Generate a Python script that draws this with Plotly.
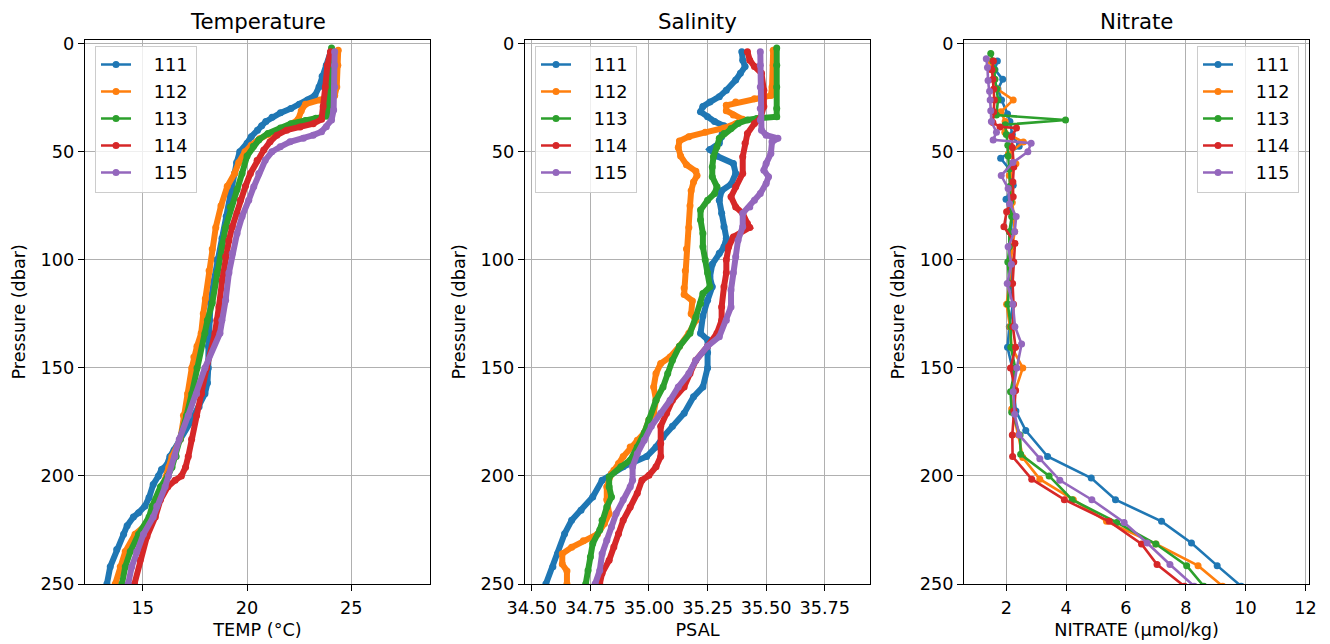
import plotly.graph_objects as go

# ---------------- data ----------------
PROFILES = ["111", "112", "113", "114", "115"]
COLORS = ["#1f77b4", "#ff7f0e", "#2ca02c", "#d62728", "#9467bd"]

# Temperature (deg C) vs pressure (dbar)
temp_p_111 = [4, 10, 15, 20, 24, 26, 28, 30, 32, 34, 36, 38, 40, 43, 46, 50, 55, 60, 70, 80, 90, 100, 110, 120, 128, 135, 140, 150, 157, 162, 168, 175, 183, 188, 191, 195, 197, 200, 204, 210, 214, 217, 219, 223, 227, 234, 242, 250]
temp_111 = [24.0, 23.8, 23.6, 23.45, 23.25, 22.9, 22.5, 22.1, 21.6, 21.2, 20.9, 20.7, 20.5, 20.2, 20.0, 19.65, 19.5, 19.4, 19.2, 19.0, 18.8, 18.55, 18.4, 18.25, 18.2, 18.2, 18.15, 18.14, 18.1, 17.98, 17.7, 17.3, 16.8, 16.5, 16.3, 16.15, 15.9, 15.75, 15.5, 15.3, 15.1, 14.8, 14.55, 14.25, 14.08, 13.75, 13.44, 13.28]

temp_p_112 = [3, 10, 20, 24, 26, 28, 31, 35, 38, 40, 42, 44, 47, 50, 55, 60, 66, 75, 85, 95, 105, 118, 125, 134, 140, 145, 150, 162, 172, 183, 191, 196, 200, 205, 214, 219, 223, 227, 235, 242, 250]
temp_112 = [24.37, 24.35, 24.3, 24.2, 23.5, 22.8, 22.6, 22.45, 22.0, 21.6, 21.0, 20.6, 20.2, 19.9, 19.6, 19.4, 19.05, 18.75, 18.5, 18.33, 18.18, 18.0, 17.9, 17.8, 17.6, 17.45, 17.35, 17.15, 16.95, 16.8, 16.4, 16.25, 16.15, 15.95, 15.5, 15.35, 15.1, 14.63, 14.16, 13.92, 13.68]

temp_p_113 = [2, 10, 20, 30, 33.5, 34.5, 35.5, 37, 39, 41.5, 44.5, 47.5, 52, 60, 67.5, 75.5, 85, 94, 106, 120, 128, 134, 150, 162, 172, 183, 191, 196, 200, 205, 214, 219, 227, 235, 242, 250]
temp_113 = [24.05, 24.0, 23.95, 23.9, 23.85, 23.3, 22.8, 22.1, 21.6, 21.0, 20.56, 20.3, 20.0, 19.76, 19.52, 19.2, 18.97, 18.8, 18.57, 18.33, 18.1, 17.98, 17.6, 17.35, 17.1, 16.8, 16.6, 16.4, 16.2, 15.85, 15.45, 15.3, 14.8, 14.4, 14.16, 14.0]

temp_p_114 = [3.7, 10, 20, 29, 35, 37, 38.5, 40, 42.3, 45.4, 49.2, 54, 60, 66, 72.4, 78.5, 84.7, 91, 98.6, 109.4, 121.8, 128, 134, 150, 162, 172, 183, 191, 196, 200, 202, 205, 211, 219, 228, 239, 250]
temp_114 = [24.0, 23.85, 23.75, 23.65, 23.57, 23.17, 22.54, 21.9, 21.43, 21.1, 20.8, 20.48, 20.16, 19.92, 19.68, 19.52, 19.29, 19.13, 18.97, 18.81, 18.65, 18.55, 18.46, 18.06, 17.82, 17.58, 17.34, 17.18, 17.05, 16.85, 16.55, 16.2, 15.85, 15.6, 15.2, 14.87, 14.6]

temp_p_115 = [3.7, 10, 20, 30.7, 35.3, 38.4, 40.7, 42.3, 43.8, 45.4, 47.7, 50, 53.9, 60, 66.2, 72.4, 80, 87.8, 97, 106, 118.7, 128, 134, 150, 162, 172, 183, 191, 200, 205, 214, 219, 227, 235, 242, 250]
temp_115 = [24.2, 24.2, 24.2, 24.15, 24.05, 23.8, 23.57, 23.17, 22.7, 22.06, 21.59, 21.19, 20.87, 20.56, 20.32, 20.08, 19.76, 19.52, 19.29, 19.13, 18.97, 18.79, 18.7, 17.98, 17.58, 17.18, 16.75, 16.54, 16.23, 16.07, 15.67, 15.5, 15.03, 14.71, 14.47, 14.3]

# Salinity (PSAL) vs pressure (dbar)
psal_p_111 = [3.7, 7.6, 10.6, 13.7, 16.8, 21.5, 24.5, 27, 29, 31.5, 33.8, 36, 38, 43, 46, 49, 52, 55.4, 60, 65, 68, 72.4, 78.5, 84.7, 90, 94, 97, 102, 108, 112.5, 118.7, 126, 134, 137, 143, 150, 158.8, 163.4, 171, 177, 182, 186.6, 191, 195.8, 199, 202, 209.7, 215.9, 220.5, 226.7, 236, 242, 250]
psal_111 = [35.396, 35.40, 35.41, 35.39, 35.37, 35.33, 35.30, 35.26, 35.23, 35.22, 35.25, 35.28, 35.32, 35.31, 35.30, 35.26, 35.29, 35.36, 35.37, 35.35, 35.31, 35.30, 35.31, 35.32, 35.33, 35.32, 35.30, 35.27, 35.26, 35.27, 35.25, 35.23, 35.22, 35.25, 35.25, 35.25, 35.23, 35.19, 35.15, 35.10, 35.06, 35.03, 34.99, 34.89, 34.84, 34.80, 34.76, 34.71, 34.67, 34.64, 34.61, 34.59, 34.56]

psal_p_112 = [3, 10, 20, 24, 25.5, 27, 28.5, 31, 33, 35, 37, 39, 41, 43, 45, 48, 52, 56, 59, 61, 64, 68, 75, 85, 95, 105, 113, 116, 119, 125, 128, 134, 140, 145, 148, 152.6, 158.8, 165, 171, 174, 180, 183.5, 186.6, 191, 194.3, 197.4, 199, 205, 211, 217.5, 222, 227, 230, 233, 236, 240.8, 244, 250]
psal_112 = [35.53, 35.53, 35.525, 35.52, 35.45, 35.37, 35.33, 35.33, 35.36, 35.40, 35.37, 35.32, 35.24, 35.17, 35.13, 35.125, 35.135, 35.16, 35.20, 35.205, 35.19, 35.18, 35.175, 35.17, 35.16, 35.155, 35.15, 35.15, 35.185, 35.18, 35.20, 35.17, 35.13, 35.09, 35.05, 35.03, 35.02, 35.03, 35.02, 35.00, 34.98, 34.95, 34.92, 34.89, 34.87, 34.85, 34.84, 34.82, 34.82, 34.83, 34.81, 34.78, 34.72, 34.67, 34.63, 34.63, 34.65, 34.65]

psal_p_113 = [2, 10, 20, 30, 33.8, 34.6, 35.3, 36.9, 39.2, 41.5, 43.8, 47.7, 52.3, 57, 61.6, 66.2, 69.3, 72.4, 77, 81.6, 87.8, 94, 100, 106, 112.5, 115.6, 120.2, 126.4, 134, 140, 146.5, 152.6, 158.8, 165, 174, 180, 186.6, 192.7, 195.8, 200.5, 205, 209.7, 214.4, 220.5, 225, 231.3, 237.5, 243.7, 250]
psal_113 = [35.545, 35.545, 35.545, 35.545, 35.545, 35.46, 35.42, 35.38, 35.35, 35.32, 35.30, 35.29, 35.275, 35.27, 35.27, 35.29, 35.28, 35.25, 35.22, 35.22, 35.23, 35.23, 35.24, 35.25, 35.26, 35.23, 35.22, 35.20, 35.175, 35.13, 35.10, 35.08, 35.06, 35.03, 35.0, 34.98, 34.95, 34.92, 34.88, 34.83, 34.83, 34.84, 34.82, 34.80, 34.79, 34.76, 34.75, 34.74, 34.73]

psal_p_114 = [3.7, 7.6, 10.6, 13.7, 21.5, 29, 34.6, 36.9, 41.5, 46, 52.3, 60, 66.2, 70.8, 75.5, 78.5, 83.2, 85, 89.4, 94, 100, 106, 112.5, 121.8, 128, 134, 140, 146.5, 152.6, 158.8, 165, 171, 177, 185, 191, 195.8, 199.7, 202, 208, 214.4, 220.5, 226.7, 232.9, 239, 245, 250]
psal_114 = [35.42, 35.43, 35.45, 35.48, 35.49, 35.49, 35.475, 35.45, 35.42, 35.41, 35.40, 35.40, 35.37, 35.35, 35.37, 35.40, 35.42, 35.43, 35.36, 35.34, 35.33, 35.33, 35.32, 35.31, 35.31, 35.29, 35.25, 35.20, 35.175, 35.15, 35.10, 35.075, 35.05, 35.05, 35.05, 35.03, 35.0, 34.97, 34.95, 34.92, 34.89, 34.87, 34.85, 34.83, 34.80, 34.79]

psal_p_115 = [3.7, 10, 20, 30, 35.3, 40, 42.3, 43.8, 45.4, 50.8, 55.4, 58.5, 61.6, 64.7, 69.3, 72.4, 75.5, 78.5, 84.7, 90.9, 98.6, 106, 114, 121.8, 128, 135.6, 140, 146.5, 152.6, 158.8, 165, 171, 177, 183.5, 189.7, 195.8, 202, 205, 211, 217.4, 223.6, 229.8, 236, 243.7, 250]
psal_115 = [35.475, 35.475, 35.475, 35.475, 35.475, 35.48, 35.50, 35.55, 35.525, 35.52, 35.50, 35.49, 35.51, 35.50, 35.475, 35.45, 35.43, 35.40, 35.40, 35.38, 35.37, 35.36, 35.35, 35.35, 35.33, 35.30, 35.25, 35.20, 35.17, 35.125, 35.09, 35.05, 35.01, 34.98, 34.95, 34.93, 34.93, 34.92, 34.89, 34.86, 34.84, 34.82, 34.80, 34.79, 34.77]

# Nitrate (umol/kg) vs pressure (dbar)
nitr_p_111 = [8, 12, 16.5, 21, 26, 32.5, 36, 42, 47.5, 53, 58, 65.5, 72, 80, 87, 94, 101.5, 111, 120.5, 131, 140.5, 150, 160.5, 170, 179, 191, 201, 211, 221, 231, 241.5, 251]
nitr_111 = [1.70, 1.62, 1.88, 1.72, 1.84, 2.04, 2.12, 2.20, 2.43, 1.81, 2.10, 2.23, 1.99, 2.20, 2.15, 2.10, 2.20, 2.15, 2.22, 2.10, 2.04, 2.20, 2.25, 2.32, 2.65, 3.38, 4.84, 5.65, 7.19, 8.19, 9.05, 9.85]

nitr_p_112 = [8, 12, 16.5, 21, 26, 31.5, 36, 41, 45.5, 51, 55.5, 61, 67, 73.5, 80, 87, 94, 101.5, 111, 120.5, 131, 140.5, 150, 160.5, 169, 181, 191.5, 201.5, 211, 221, 231.5, 241.5, 251]
nitr_112 = [1.45, 1.50, 1.58, 1.70, 2.23, 1.82, 1.96, 1.95, 2.57, 2.07, 2.32, 2.10, 2.15, 2.20, 2.25, 2.28, 2.20, 2.15, 2.10, 2.01, 2.12, 2.18, 2.55, 2.30, 2.18, 2.40, 2.55, 3.12, 4.24, 5.35, 7.00, 8.41, 9.23]

nitr_p_113 = [4.5, 8, 12, 16.5, 21, 26, 33, 35.3, 37.5, 42, 47, 52, 58, 66, 73, 80, 87, 94, 101, 111, 120.5, 131, 140.5, 150, 161, 170.5, 181, 190, 200, 211, 221.5, 231.5, 241.5, 251]
nitr_113 = [1.48, 1.55, 1.60, 1.62, 1.68, 1.72, 1.67, 3.98, 1.96, 2.00, 2.05, 2.06, 2.10, 2.12, 2.15, 2.18, 2.10, 2.10, 2.05, 2.10, 2.05, 2.15, 2.15, 2.30, 2.14, 2.18, 2.46, 2.48, 3.43, 4.20, 5.69, 7.00, 8.03, 8.60]

nitr_p_114 = [8, 12, 16.5, 21, 26, 31.5, 36.5, 38.5, 39, 43, 48, 57, 64, 70.8, 77.8, 84.7, 92.4, 101, 111, 120.5, 131, 140.5, 150, 160.5, 170, 181, 191, 201.5, 211, 221, 231.5, 241, 251]
nitr_114 = [1.57, 1.52, 1.55, 1.58, 1.60, 1.58, 1.55, 1.79, 2.34, 2.18, 2.20, 2.25, 2.22, 2.23, 2.01, 1.92, 2.29, 2.25, 2.21, 2.24, 2.22, 2.31, 2.14, 2.31, 2.25, 2.20, 2.21, 2.85, 3.94, 5.44, 6.52, 7.04, 7.95]

nitr_p_115 = [7, 11, 17, 22, 26, 31, 36, 41, 44.5, 46, 50, 55, 61, 67, 74, 80, 87, 94, 102, 111, 120.5, 131, 139, 150, 161, 171.5, 181, 192, 202, 211, 221.5, 231, 241, 251]
nitr_115 = [1.33, 1.37, 1.39, 1.44, 1.46, 1.48, 1.50, 1.67, 1.56, 2.83, 2.72, 2.22, 1.83, 2.06, 2.11, 2.33, 2.28, 2.06, 2.17, 2.03, 2.22, 2.29, 2.51, 2.35, 2.23, 2.28, 2.43, 3.12, 3.79, 4.86, 5.94, 6.71, 7.47, 8.28]

TEMP = [(temp_p_111, temp_111), (temp_p_112, temp_112), (temp_p_113, temp_113), (temp_p_114, temp_114), (temp_p_115, temp_115)]
PSAL = [(psal_p_111, psal_111), (psal_p_112, psal_112), (psal_p_113, psal_113), (psal_p_114, psal_114), (psal_p_115, psal_115)]
NITR = [(nitr_p_111, nitr_111), (nitr_p_112, nitr_112), (nitr_p_113, nitr_113), (nitr_p_114, nitr_114), (nitr_p_115, nitr_115)]

PANEL_TITLES = ["Temperature", "Salinity", "Nitrate"]
X_LABELS = ["TEMP (°C)", "PSAL", "NITRATE (µmol/kg)"]
Y_LABEL = "Pressure (dbar)"
TEMP_TICKS = [15, 20, 25]
PSAL_TICKS = [34.50, 34.75, 35.00, 35.25, 35.50, 35.75]
NITR_TICKS = [2, 4, 6, 8, 10, 12]
P_TICKS = [0, 50, 100, 150, 200, 250]

# ---------------- figure ----------------
PAGE_W, PAGE_H = 1330, 644
OFF = 8                      # default body margin of the html page
W, H = PAGE_W - OFF, PAGE_H - OFF
FONT = "DejaVu Sans"
TICK_FS = 17.7
LEAD = "\u2002\u2002"        # spacing inside legend labels (reference layout)
TRAIL = "\u2009"

def px_x(v):
    return (v - OFF) / W

def px_y(v):
    return 1 - (v - OFF) / H

panels_px = [(85, 430), (525, 870), (964.3, 1309)]
top_px, bot_px = 39.5, 584
xranges = [[12.23, 28.77], [34.471, 35.943], [0.595, 12.12]]
xticks = [TEMP_TICKS, PSAL_TICKS, NITR_TICKS]
xfmt = ["d", ".2f", "d"]

fig = go.Figure()

datasets = [TEMP, PSAL, NITR]
for k, data in enumerate(datasets):
    xa = "x" if k == 0 else f"x{k+1}"
    ya = "y" if k == 0 else f"y{k+1}"
    leg = "legend" if k == 0 else f"legend{k+1}"
    dense = k < 2
    for i, (pp, vals) in enumerate(data):
        grp = f"g{k}_{i}"
        label = LEAD + PROFILES[i] + TRAIL
        fig.add_trace(go.Scatter(
            x=vals, y=pp, xaxis=xa, yaxis=ya,
            mode="lines+markers",
            line=dict(color=COLORS[i], width=6.0 if dense else 2.6),
            marker=dict(color=COLORS[i], size=7),
            name=label, legendgroup=grp, legend=leg,
            showlegend=not dense,
        ))
        if dense:
            # legend entry with the thin line style of the reference
            fig.add_trace(go.Scatter(
                x=[None], y=[None], xaxis=xa, yaxis=ya,
                mode="lines+markers",
                line=dict(color=COLORS[i], width=2.6),
                marker=dict(color=COLORS[i], size=7),
                name=label, legendgroup=grp, legend=leg,
                showlegend=True, hoverinfo="skip",
            ))

axis_common = dict(
    showline=True, mirror=True, linecolor="black", linewidth=1.3,
    ticks="outside", ticklen=6, tickwidth=1.3, tickcolor="black",
    showgrid=True, gridcolor="#b0b0b0", gridwidth=1.3, zeroline=False,
    automargin=False,
    tickfont=dict(family=FONT, size=TICK_FS, color="black"),
)

layout = dict(
    width=W, height=H, margin=dict(l=0, r=0, t=0, b=0, autoexpand=False),
    paper_bgcolor="white", plot_bgcolor="white",
    font=dict(family=FONT, size=TICK_FS, color="black"),
    annotations=[],
)

for k in range(3):
    sx = "" if k == 0 else str(k + 1)
    l, r = panels_px[k]
    layout["xaxis" + sx] = dict(
        axis_common, domain=[px_x(l), px_x(r)], range=xranges[k],
        anchor="y" + sx, tickvals=xticks[k], tickformat=xfmt[k],
        ticklabelstandoff=2,
        title=dict(text=X_LABELS[k], standoff=6, font=dict(family=FONT, size=TICK_FS)),
    )
    layout["yaxis" + sx] = dict(
        axis_common, domain=[px_y(bot_px), px_y(top_px)], range=[250, -1.95],
        anchor="x" + sx, tickvals=P_TICKS,
        title=dict(text=Y_LABEL, standoff=10, font=dict(family=FONT, size=TICK_FS)),
    )
    layout["annotations"].append(dict(
        text=PANEL_TITLES[k], xref="paper", yref="paper",
        x=px_x((l + r) / 2), y=px_y(22), xanchor="center", yanchor="middle",
        showarrow=False, font=dict(family=FONT, size=21.3, color="black"),
    ))

legend_common = dict(
    bgcolor="rgba(255,255,255,0.8)", bordercolor="#cccccc", borderwidth=1,
    font=dict(family=FONT, size=TICK_FS, color="black"),
    traceorder="grouped", tracegroupgap=1, yanchor="top",
)
layout["legend"] = dict(legend_common, x=px_x(95), y=px_y(45.5), xanchor="left")
layout["legend2"] = dict(legend_common, x=px_x(535), y=px_y(45.5), xanchor="left")
layout["legend3"] = dict(legend_common, x=px_x(1299), y=px_y(45.5), xanchor="right")

fig.update_layout(**layout)
fig.write_html("out.html")
